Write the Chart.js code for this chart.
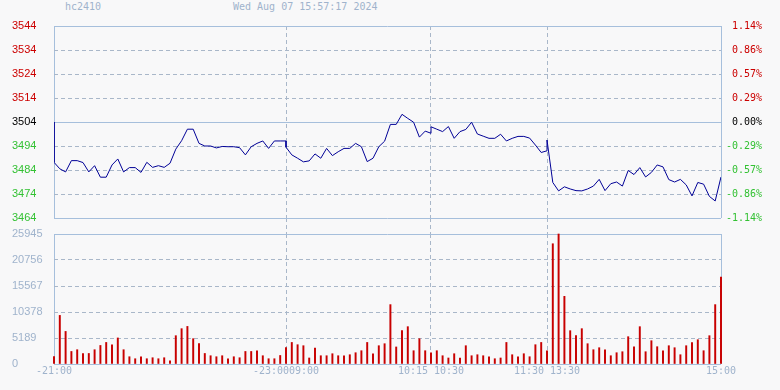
<!DOCTYPE html>
<html>
<head>
<meta charset="utf-8">
<script src="https://cdn.jsdelivr.net/npm/chart.js@4.4.1/dist/chart.umd.min.js"></script>
<style>
    body { margin: 0; background: #f8f8f9; width: 780px; height: 390px; overflow: hidden; position: relative; }
    .hdr { position: absolute; top: 1px; font: 10px 'DejaVu Sans Mono', monospace; line-height: 12px; color: #9fb3cc; white-space: pre; }
    canvas { position: absolute; left: 0; }
</style>
</head>
<body>
<div class="hdr" style="left:65px">hc2410</div>
<div class="hdr" style="left:233px">Wed Aug 07 15:57:17 2024</div>
<canvas id="priceChart" width="780" height="234" style="top:0"></canvas>
<canvas id="volumeChart" width="780" height="168" style="top:222px"></canvas>
<script>
// one sample every 3 minutes, 21:00 -> 15:00 (345 trading minutes)
const step = 3;
const prevClose = 3504;

const prices = [
    3487.2, 3484.5, 3483.2, 3487.9, 3487.9, 3487.1, 3483.2, 3485.8, 3481.0, 3481.0,
    3486.1, 3488.6, 3483.2, 3485.0, 3485.0, 3483.0, 3487.2, 3485.1, 3485.8, 3485.1,
    3486.8, 3492.7, 3496.2, 3501.0, 3501.0, 3495.1, 3494.0, 3494.0, 3493.2, 3493.8,
    3493.7, 3493.7, 3493.3, 3490.3, 3493.7, 3495.1, 3496.1, 3493.0, 3496.1, 3496.1,
    3496.1, 3490.3, 3488.9, 3487.4, 3487.8, 3490.7, 3488.9, 3493.0, 3490.0, 3491.6,
    3493.0, 3493.0, 3495.1, 3493.7, 3487.5, 3488.9, 3493.7, 3496.0, 3503.0, 3503.0,
    3507.2, 3505.5, 3503.9, 3497.7, 3500.2, 3499.3, 3501.0, 3500.0, 3502.1, 3497.2,
    3500.0, 3500.9, 3503.9, 3499.0, 3498.1, 3497.2, 3497.2, 3498.9, 3496.1, 3497.2,
    3498.0, 3498.0, 3497.3, 3494.4, 3491.3, 3492.0, 3478.8, 3475.3, 3477.0, 3476.1,
    3475.4, 3475.3, 3476.1, 3477.3, 3480.1, 3475.4, 3478.3, 3479.0, 3477.3, 3483.8,
    3482.1, 3485.0, 3481.1, 3483.0, 3486.1, 3485.3, 3480.0, 3479.0, 3480.1, 3477.8,
    3473.2, 3478.8, 3478.1, 3473.0, 3471.1, 3481.1
];

// opening price of the 09:00, 10:30 and 13:30 sessions [minute, price]
const sessionOpens = [[120, 3493.5], [195, 3502.0], [255, 3496.5]];

const volumes = [
    1500, 9700, 6500, 2500, 2850, 2100, 2100, 2850, 3700, 4300,
    3850, 5200, 2850, 1450, 1050, 1450, 1050, 1250, 1050, 1250,
    650, 5650, 7050, 7500, 5050, 4100, 2100, 1650, 1450, 1650,
    1050, 1450, 1250, 2500, 2500, 2650, 1650, 1050, 1050, 1700,
    3300, 4300, 3850, 3650, 1200, 3200, 1650, 1650, 2050, 1650,
    1650, 1850, 2250, 2650, 4300, 2050, 3650, 4050, 11850, 3400,
    6650, 7450, 2650, 5050, 2650, 2250, 2650, 1650, 1200, 2050,
    1200, 3650, 1650, 1850, 1650, 1450, 1050, 1200, 4300, 1850,
    1450, 2050, 1450, 3850, 4300, 2650, 24000, 25945, 13500, 6650,
    5650, 7050, 4050, 2850, 3250, 2850, 1650, 2250, 2450, 5450,
    3450, 7450, 2450, 4650, 3450, 2650, 3650, 3250, 1850, 3650,
    4250, 4850, 2650, 5650, 11850, 17350
];

const priceTicks = [3464, 3474, 3484, 3494, 3504, 3514, 3524, 3534, 3544];
const volumeTicks = [0, 5189, 10378, 15567, 20756, 25945];
const timeTicks = [0, 120, 195, 255, 345];
const timeLabels = ['-21:00', '-23:0009:00', '10:15 10:30', '11:30 13:30', '15:00'];

document.addEventListener("DOMContentLoaded", () => {

    const FRAME = '#a6bfdc';
    const DASH = '#a9b7c9';
    const LABEL = '#9fb3cc';
    const UP = '#cc0000', DOWN = '#33c133';
    const tMin = timeTicks[0], tMax = timeTicks[timeTicks.length - 1];

    const isEdgeTime = v => v === tMin || v === tMax;
    const setTicks = list => scale => { scale.ticks = list.map(v => ({ value: v })); };
    const priceColor = v => v > prevClose ? UP : (v < prevClose ? DOWN : '#000');

    // time axis, shared by both panels
    const timeAxis = (showLabels) => ({
        type: 'linear',
        min: tMin,
        max: tMax,
        offset: false,
        afterBuildTicks: setTicks(timeTicks),
        afterFit: s => { s.height = showLabels ? 26 : 16; },
        grid: {
            offset: false,
            color: c => (c.tick && isEdgeTime(c.tick.value)) ? FRAME : DASH,
            drawTicks: !showLabels,
            tickLength: 16,
            tickColor: c => (c.tick && !isEdgeTime(c.tick.value)) ? DASH : 'rgba(0,0,0,0)',
            tickBorderDash: [4, 3]
        },
        border: {
            display: false,
            dash: c => (c.tick && !isEdgeTime(c.tick.value)) ? [4, 3] : []
        },
        ticks: {
            display: showLabels,
            autoSkip: false,
            maxRotation: 0,
            padding: 1,
            color: LABEL,
            font: { family: "'DejaVu Sans Mono', monospace", size: 10 },
            callback: (v) => timeLabels[timeTicks.indexOf(v)] || ''
        }
    });

    // price line points, with the session opening jumps
    const pricePoints = [{ x: 0, y: prevClose }];
    prices.forEach((p, i) => {
        const t = i * step;
        pricePoints.push({ x: t, y: p });
        const open = sessionOpens.find(o => o[0] === t);
        if (open) pricePoints.push({ x: t, y: open[1] });
    });

    new Chart(document.getElementById('priceChart'), {
        type: 'line',
        data: {
            datasets: [{
                data: pricePoints,
                borderColor: '#000096',
                borderWidth: 1,
                pointRadius: 0,
                tension: 0,
                yAxisID: 'y'
            }]
        },
        options: {
            responsive: false,
            devicePixelRatio: 1,
            animation: false,
            layout: { padding: { left: 12, right: 18, top: 26, bottom: 0 } },
            plugins: { legend: { display: false }, tooltip: { enabled: false } },
            scales: {
                x: timeAxis(false),
                y: {
                    position: 'left',
                    min: priceTicks[0],
                    max: priceTicks[priceTicks.length - 1],
                    afterBuildTicks: setTicks(priceTicks),
                    afterFit: s => { s.width = 42; },
                    grid: {
                        drawTicks: false,
                        color: c => {
                            const v = c.tick && c.tick.value;
                            return (v === prevClose || v === priceTicks[0] || v === priceTicks[priceTicks.length - 1]) ? FRAME : DASH;
                        }
                    },
                    border: {
                        display: false,
                        dash: c => {
                            const v = c.tick && c.tick.value;
                            if (v === undefined) return [];
                            return (v === prevClose || v === priceTicks[0] || v === priceTicks[priceTicks.length - 1]) ? [] : [4, 3];
                        }
                    },
                    ticks: {
                        crossAlign: 'far',
                        color: c => priceColor(c.tick.value),
                        font: { family: "'Liberation Sans', Arial, sans-serif", size: 11 },
                        callback: v => String(v)
                    }
                },
                y2: {
                    position: 'right',
                    min: priceTicks[0],
                    max: priceTicks[priceTicks.length - 1],
                    afterBuildTicks: setTicks(priceTicks),
                    afterFit: s => { s.width = 41; },
                    grid: { drawOnChartArea: false, drawTicks: false },
                    border: { display: false },
                    ticks: {
                        crossAlign: 'far',
                        color: c => priceColor(c.tick.value),
                        font: { family: "'DejaVu Sans Mono', monospace", size: 10 },
                        callback: v => ((v - prevClose) / prevClose * 100).toFixed(2) + '%'
                    }
                }
            }
        }
    });

    new Chart(document.getElementById('volumeChart'), {
        type: 'bar',
        data: {
            datasets: [{
                data: volumes.map((v, i) => ({ x: i * step, y: v })),
                backgroundColor: '#c80000',
                barThickness: 1.3,
                clip: false
            }]
        },
        options: {
            responsive: false,
            devicePixelRatio: 1,
            animation: false,
            layout: { padding: { left: 12, right: 59, top: 12, bottom: 0 } },
            plugins: { legend: { display: false }, tooltip: { enabled: false } },
            scales: {
                x: timeAxis(true),
                y: {
                    min: 0,
                    max: volumeTicks[volumeTicks.length - 1],
                    afterBuildTicks: setTicks(volumeTicks),
                    afterFit: s => { s.width = 42; },
                    grid: {
                        drawTicks: false,
                        color: c => {
                            const v = c.tick && c.tick.value;
                            return (v === 0 || v === volumeTicks[volumeTicks.length - 1]) ? FRAME : DASH;
                        }
                    },
                    border: {
                        display: false,
                        dash: c => {
                            const v = c.tick && c.tick.value;
                            if (v === undefined) return [];
                            return (v === 0 || v === volumeTicks[volumeTicks.length - 1]) ? [] : [4, 3];
                        }
                    },
                    ticks: {
                        crossAlign: 'far',
                        color: LABEL,
                        font: { family: "'Liberation Sans', Arial, sans-serif", size: 11 },
                        callback: v => String(v)
                    }
                }
            }
        }
    });
});
</script>
</body>
</html>
